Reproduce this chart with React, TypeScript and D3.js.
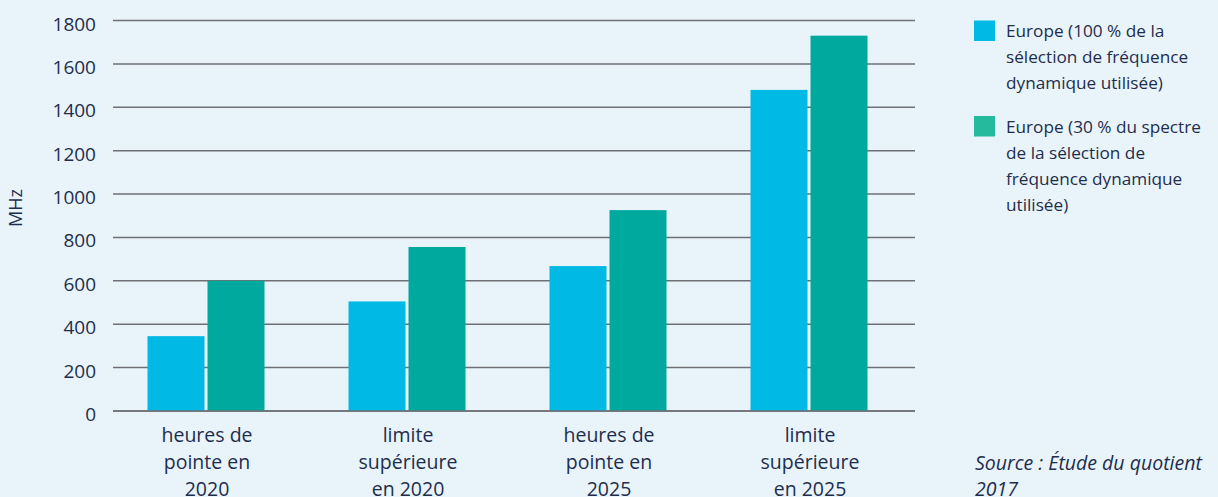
import React from "react";
import * as d3 from "d3";

const categories: string[][] = [
  ["heures de", "pointe en", "2020"],
  ["limite", "supérieure", "en 2020"],
  ["heures de", "pointe en", "2025"],
  ["limite", "supérieure", "en 2025"],
];
const seriesNames = ["s100", "s30"];
const series100 = [345, 505, 668, 1480];
const series30 = [600, 756, 926, 1730];
const yTicks = [0, 200, 400, 600, 800, 1000, 1200, 1400, 1600, 1800];
const legendLines: string[][] = [
  ["Europe (100 % de la", "sélection de fréquence", "dynamique utilisée)"],
  ["Europe (30 % du spectre", "de la sélection de", "fréquence dynamique", "utilisée)"],
];
const sourceLines = ["Source : Étude du quotient", "2017"];

const W = 1218;
const H = 497;
const BG = "#E8F4FA";
const TEXT = "#1F2D4D";
const BLUE = "#00B9E4";
const TEAL = "#00A99E";
const LEGEND_COLORS = ["#00B9E4", "#25B99D"];
const FONT = "'Open Sans', 'Noto Sans', sans-serif";

export default function App() {
  const x0 = d3
    .scaleBand<number>()
    .domain(d3.range(categories.length))
    .range([105.5, 909.5])
    .paddingInner(0.418)
    .paddingOuter(0.209);
  const x1 = d3
    .scaleBand<string>()
    .domain(seriesNames)
    .range([0, x0.bandwidth()])
    .paddingInner(0.05);
  const y = d3.scaleLinear().domain([0, 1800]).range([411, 20.5]);
  const values = [series100, series30];
  const colors = [BLUE, TEAL];

  return (
    <div style={{ position: "fixed", left: 0, top: 0, width: W, height: H }}>
      <svg width={W} height={H} style={{ display: "block", background: BG }}>
        <rect x={0} y={0} width={W} height={H} fill={BG} />
        {yTicks.map((t) => (
          <g key={t}>
            <line x1={113} x2={915} y1={y(t)} y2={y(t)} stroke="#6E7075" strokeWidth={1.5} />
            <text
              x={96}
              y={y(t) + 10}
              textAnchor="end"
              fontFamily={FONT}
              fontSize={19}
              fill={TEXT}
            >
              {t}
            </text>
          </g>
        ))}
        {categories.map((c, i) => (
          <g key={i} transform={`translate(${x0(i)},0)`}>
            {seriesNames.map((s, k) => (
              <rect
                key={s}
                x={x1(s)}
                y={y(values[k][i])}
                width={x1.bandwidth()}
                height={y(0) - y(values[k][i])}
                fill={colors[k]}
              />
            ))}
          </g>
        ))}
        <line x1={113} x2={915} y1={y(0)} y2={y(0)} stroke="#6E7075" strokeWidth={1.5} />
        {categories.map((c, i) => {
          const cx = (x0(i) as number) + x0.bandwidth() / 2 + 1;
          return (
            <text key={i} textAnchor="middle" fontFamily={FONT} fontSize={19.5} fill={TEXT}>
              {c.map((l, j) => (
                <tspan key={j} x={cx} y={442 + j * 27}>
                  {l}
                </tspan>
              ))}
            </text>
          );
        })}
        <text
          transform="translate(22,208) rotate(-90)"
          textAnchor="middle"
          fontFamily={FONT}
          fontSize={18}
          fill={TEXT}
        >
          MHz
        </text>
        {legendLines.map((lines, k) => {
          const top = k === 0 ? 20.5 : 116;
          return (
            <g key={k}>
              <rect x={974} y={top} width={21} height={20.5} fill={LEGEND_COLORS[k]} />
              {lines.map((l, j) => (
                <text
                  key={j}
                  x={1006}
                  y={top + 16.5 + j * 26}
                  fontFamily={FONT}
                  fontSize={17.2}
                  fill={TEXT}
                >
                  {l}
                </text>
              ))}
            </g>
          );
        })}
        {sourceLines.map((l, j) => (
          <text
            key={j}
            x={975}
            y={470 + j * 26}
            fontFamily={FONT}
            fontSize={19.5}
            fontStyle="italic"
            fill={TEXT}
          >
            {l}
          </text>
        ))}
      </svg>
    </div>
  );
}
